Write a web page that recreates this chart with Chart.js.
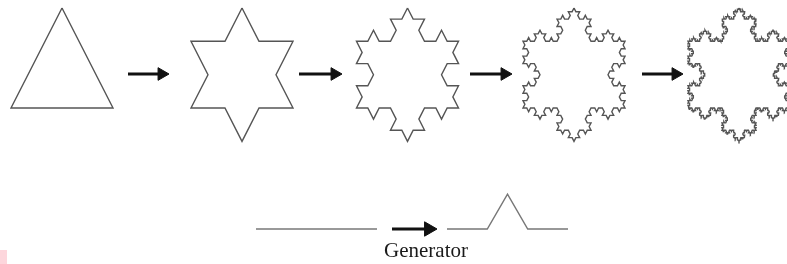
<!DOCTYPE html>
<html lang="en">
<head>
    <meta charset="UTF-8">
    <title>Koch snowflake</title>
    <script src="https://cdn.jsdelivr.net/npm/chart.js"></script>
    <style>
        html, body { margin: 0; padding: 0; background: #fff; }
        canvas { display: block; }
    </style>
</head>
<body>
    <canvas id="grafico" width="787" height="264"></canvas>

    <script>
        // data
        const levels = [0, 1, 2, 3, 4];                 // iterations shown left to right
        const triangle = [[0, 0.866], [0.5, 0], [-0.5, 0], [0, 0.866]]; // initiator, unit side
        const initiator = [[0, 0], [1, 0]];             // straight segment (bottom left)
        const generator = [[0, 0], [0.333, 0], [0.5, 0.289], [0.667, 0], [1, 0]];
        const caption = 'Generator';

        // layout (pixels)
        const centers = [62, 242, 407.5, 574, 739];
        const figSize = 102, figBase = 108, figHeight = 100;
        const arrowsTop = [[128, 169], [299, 342], [470, 512], [642, 683]];
        const arrowTopY = 74;
        const bottomY = 229, segLen = 121;
        const initiatorX = 256, generatorX = 447;
        const arrowBottom = [392, 437];

        function applyGenerator(pts) {
            let out = [];
            for (let i = 0; i < pts.length - 1; i++) {
                let p = pts[i], q = pts[i + 1];
                let dx = q[0] - p[0], dy = q[1] - p[1];
                for (let j = 0; j < generator.length - 1; j++) {
                    let a = generator[j][0], b = generator[j][1];
                    out.push([p[0] + a * dx - b * dy, p[1] + a * dy + b * dx]);
                }
            }
            out.push(pts[pts.length - 1]);
            return out;
        }

        function koch(n) {
            let pts = triangle;
            for (let i = 0; i < n; i++) pts = applyGenerator(pts);
            return pts;
        }

        let datasets = [];

        levels.forEach((n, k) => {
            let vs = figHeight / 0.866;
            datasets.push({
                data: koch(n).map(p => ({ x: centers[k] + p[0] * figSize, y: figBase - p[1] * vs })),
                showLine: true,
                borderColor: '#555',
                borderWidth: 1.4,
                pointRadius: 0
            });
        });

        function arrow(x0, x1, y, r) {
            return {
                data: [{ x: x0, y: y }, { x: x1 - r, y: y }],
                showLine: true,
                borderColor: '#111',
                backgroundColor: '#111',
                borderWidth: 3,
                pointRadius: [0, r],
                pointStyle: 'triangle',
                rotation: 90,
                pointBorderWidth: 1
            };
        }

        arrowsTop.forEach(a => datasets.push(arrow(a[0], a[1], arrowTopY, 7.3)));
        datasets.push(arrow(arrowBottom[0], arrowBottom[1], bottomY, 8.3));

        [[initiator, initiatorX], [generator, generatorX]].forEach(([shape, x0]) => {
            datasets.push({
                data: shape.map(p => ({ x: x0 + p[0] * segLen, y: bottomY - p[1] * segLen })),
                showLine: true,
                borderColor: '#777',
                borderWidth: 1.4,
                pointRadius: 0
            });
        });

        const extras = {
            id: 'extras',
            beforeDraw(chart) {
                let ctx = chart.ctx;
                ctx.save();
                ctx.fillStyle = '#fff';
                ctx.fillRect(0, 0, chart.width, chart.height);
                ctx.fillStyle = '#fdd6dc';
                ctx.fillRect(0, 250, 7, 14);
                ctx.restore();
            },
            afterDraw(chart) {
                let ctx = chart.ctx;
                let xs = chart.scales.x, ys = chart.scales.y;
                ctx.save();
                ctx.font = '21px "Liberation Serif", "Times New Roman", serif';
                ctx.textAlign = 'center';
                ctx.textBaseline = 'alphabetic';
                ctx.fillStyle = '#1a1a1a';
                ctx.fillText(caption, xs.getPixelForValue(426), ys.getPixelForValue(257));
                ctx.restore();
            }
        };

        new Chart(document.getElementById('grafico').getContext('2d'), {
            type: 'scatter',
            data: { datasets: datasets },
            options: {
                responsive: false,
                animation: false,
                layout: { padding: 0, autoPadding: false },
                elements: { line: { tension: 0 } },
                plugins: { legend: { display: false }, tooltip: { enabled: false } },
                scales: {
                    x: { type: 'linear', min: 0, max: 787, display: false },
                    y: { type: 'linear', min: 0, max: 264, reverse: true, display: false }
                }
            },
            plugins: [extras]
        });
    </script>
</body>
</html>
